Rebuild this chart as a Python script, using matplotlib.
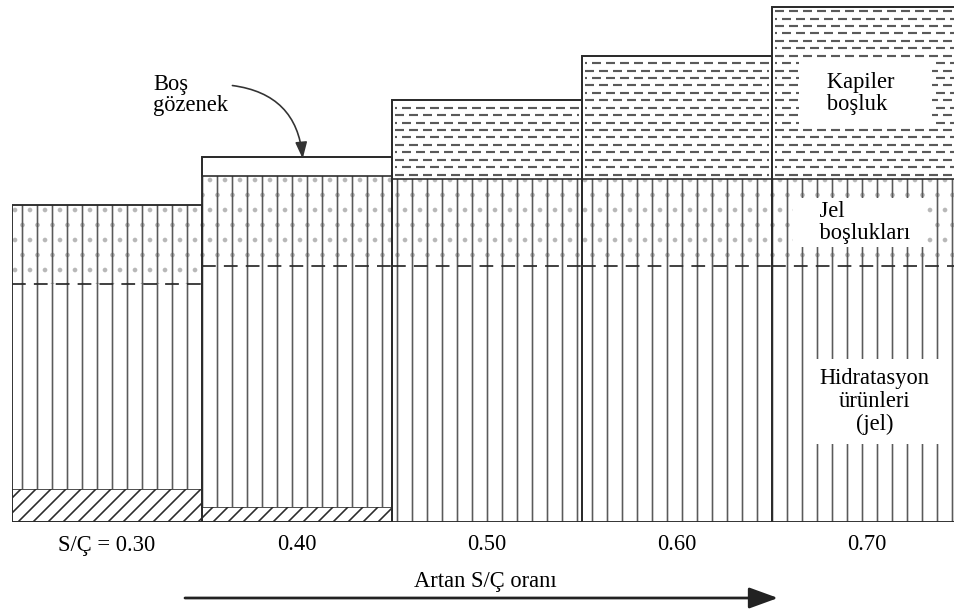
"""Cement paste composition vs. water/cement (S/Ç) ratio, drawn as stacked hatched columns."""
import numpy as np
import matplotlib
matplotlib.use("Agg")
import matplotlib.pyplot as plt

# relative volumes per S/Ç ratio (hydration products of a fully hydrated paste = 100)
labels = ["S/Ç = 0.30", "0.40", "0.50", "0.60", "0.70"]
unhydrated = [13, 6, 0, 0, 0]          # hidratlaşmamış çimento
hydration = [80, 94, 100, 100, 100]    # hidratasyon ürünleri (jel)
gel_pores = [31, 35, 34, 34, 34]       # jel boşlukları
capillary = [0, 0, 31, 48, 67]         # kapiler boşluk
empty_pore = [0, 7.5, 0, 0, 0]         # boş gözenek

DPI = 90                               # hatch density 6/inch -> 15 px line spacing
plt.rcParams["font.family"] = ["Liberation Serif", "DejaVu Serif"]
plt.rcParams["hatch.linewidth"] = 1.3
plt.rcParams["lines.scale_dashes"] = False

fig = plt.figure(figsize=(954 / DPI, 610 / DPI), dpi=DPI, facecolor="white")
ax = fig.add_axes([12 / 954, 88 / 610, 942 / 954, 522 / 610])

x = np.arange(len(labels))
b1 = np.array(unhydrated, float)
b2 = b1 + hydration
b3 = b2 + gel_pores
b4 = b3 + capillary
total = b4 + empty_pore

ink = "#2b2b2b"
line = "#5a5a5a"


def _nz(vals, bottom):
    idx = [i for i, v in enumerate(vals) if v > 0]
    return x[idx], np.asarray(vals, float)[idx], np.asarray(bottom, float)[idx]


xi, h, bo = _nz(unhydrated, np.zeros(len(x)))
ax.bar(xi, h, 1.0, bottom=bo, color="white", edgecolor=ink, hatch="//", lw=1.3)
ax.bar(x, hydration, 1.0, bottom=b1, color="white", edgecolor=line, hatch="|", lw=0)
ax.bar(x, gel_pores, 1.0, bottom=b2, color="white", edgecolor="#b8b8b8", hatch=".", lw=0)
ax.bar(x, gel_pores, 1.0, bottom=b2, color="none", edgecolor=line, hatch="|", lw=0)
xi, h, bo = _nz(capillary, b3)
ax.bar(xi, h, 1.0, bottom=bo, color="white", edgecolor=ink, lw=1.3)
xi, h, bo = _nz(empty_pore, b4)
ax.bar(xi, h, 1.0, bottom=bo, color="white", edgecolor=ink, lw=1.3)

# capillary water: staggered rows of short dashes
step = 2.9
for xc, lo, hc in zip(x, b3, capillary):
    if hc == 0:
        continue
    rows = np.arange(lo + step * 0.6, lo + hc - 0.8, step)
    for k, yr in enumerate(rows):
        ax.hlines(yr, xc - 0.485, xc + 0.485, colors=line, lw=1.7,
                  linestyles=[((k % 2) * 5.6, (7.2, 4.0))])

# broken boundary between gel pores and hydration products
ax.hlines(b2, x - 0.5, x + 0.5, colors=ink, lw=1.4, linestyles=[(0, (11, 6.5))])

# column outlines
ax.bar(x, total, 1.0, color="none", edgecolor=ink, lw=1.5)

fs = 18
white = dict(boxstyle="square,pad=0.25", facecolor="white", edgecolor="none")
ax.text(x[4] - 0.30, b3[4] + capillary[4] / 2, "   Kapiler    \n   boşluk      ", fontsize=fs,
        ha="left", va="center", linespacing=1.05, bbox=dict(white, boxstyle="square,pad=0.5"))
ax.text(x[4] - 0.37, b2[4] + gel_pores[4] / 2, "    Jel           \n    boşlukları  ",
        fontsize=fs, ha="left", va="center", linespacing=1.05,
        bbox=dict(white, boxstyle="square,pad=0.15"))
ax.text(x[4] + 0.04, b1[4] + hydration[4] * 0.47, "Hidratasyon\nürünleri\n(jel)", fontsize=fs,
        ha="center", va="center", linespacing=1.1, bbox=dict(white, boxstyle="square,pad=0.4"))

ax.text(0.242, 166.8, "Boş\ngözenek", fontsize=fs, ha="left", va="center", linespacing=1.05)
ax.annotate("", xy=(x[1] + 0.03, total[1] - 0.6), xytext=(0.66, 170.5),
            arrowprops=dict(arrowstyle="-|>,head_length=0.7,head_width=0.25", color="#333333",
                            lw=1.3, mutation_scale=16, connectionstyle="arc3,rad=-0.4",
                            shrinkA=0, shrinkB=0))

ax.set_xticks(x, labels, fontsize=fs)
ax.tick_params(length=0, pad=10)
ax.set_yticks([])
for s in ax.spines.values():
    s.set_visible(False)
ax.set_xlim(-0.5, -0.5 + 942 / 190)
ax.set_ylim(0, 522 / 2.56)

fig.text(485 / 954, 1 - 582 / 610, "Artan S/Ç oranı", fontsize=fs, ha="center", va="center")
fig.add_artist(matplotlib.patches.FancyArrowPatch(
    (185 / 954, 1 - 598 / 610), (778 / 954, 1 - 598 / 610), transform=fig.transFigure,
    arrowstyle="-|>,head_length=1.1,head_width=0.4", mutation_scale=18, lw=2.2,
    color="#222222", shrinkA=0, shrinkB=0))

fig.savefig("out.png", dpi=DPI, facecolor="white")
